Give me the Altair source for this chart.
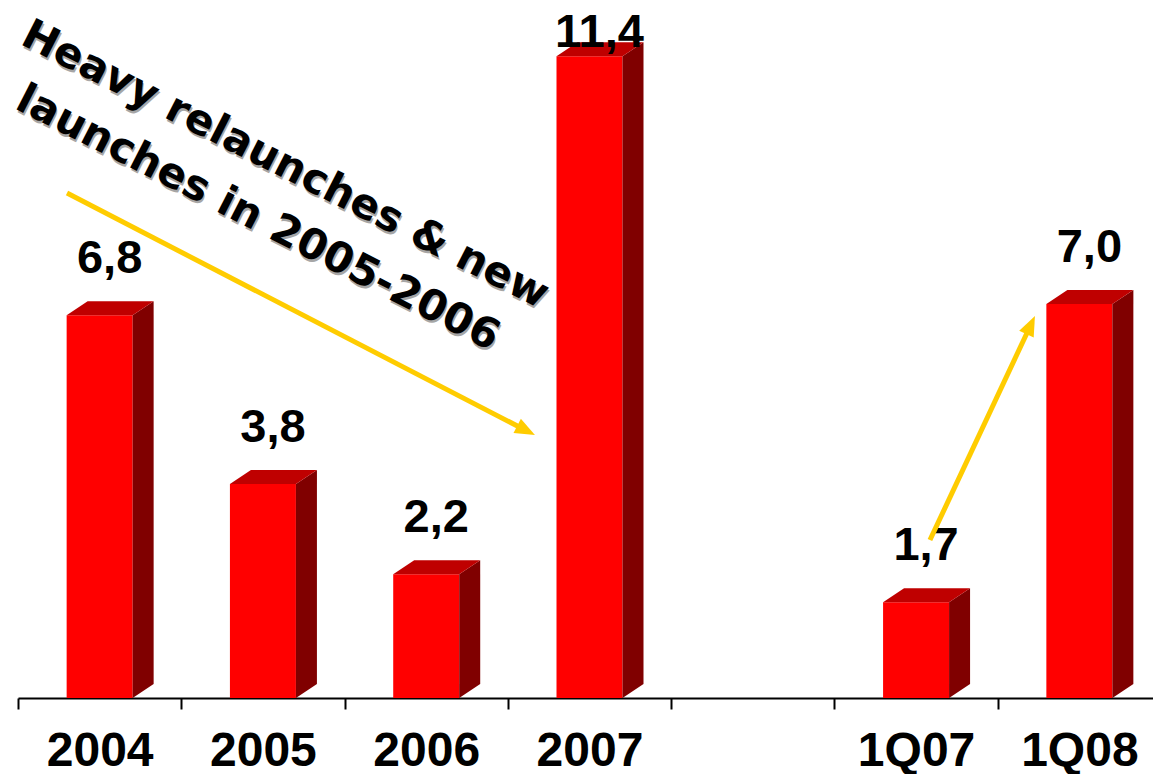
import math
import altair as alt
import pandas as pd

# ---- data -------------------------------------------------------------
axis_labels = ["2004", "2005", "2006", "2007", " ", "1Q07", "1Q08"]
bar_categories = ["2004", "2005", "2006", "2007", "1Q07", "1Q08"]
bar_values = [6.8, 3.8, 2.2, 11.4, 1.7, 7.0]
annotation_text = "Heavy relaunches & new\nlaunches in 2005-2006"
# arrows in data units (x = category slot index, y = value)
arrow_start_x = [-0.2, 5.085]
arrow_start_y = [8.97, 2.806]
arrow_tip_x = [2.666, 5.728]
arrow_tip_y = [4.67, 6.785]

# ---- layout constants -------------------------------------------------
W_RANGE = 1143          # full band range (last band runs past the canvas edge)
PLOT_W = 1135
PLOT_H = 698
Y_MAX = 12.4
PX_X = W_RANGE / len(axis_labels)
PX_Y = PLOT_H / Y_MAX
FRONT_PX = 66
DEPTH_X_PX = 21
DEPTH_Y_PX = 14
hw = FRONT_PX / 2 / PX_X
ddx = DEPTH_X_PX / PX_X
ddy = DEPTH_Y_PX / PX_Y

RED = "#FF0000"
TOP = "#BF0000"
SIDE = "#800000"
YELLOW = "#FFCC00"

# ---- derived tables ---------------------------------------------------
df_front = pd.DataFrame({"cat": bar_categories, "v": bar_values})

side_rows, top_rows, label_rows = [], [], []
for c, v in zip(bar_categories, bar_values):
    i = axis_labels.index(c)
    side_rows += [
        {"cat": c, "x": i + hw, "lo": 0.0, "hi": v},
        {"cat": c, "x": i + hw + ddx, "lo": ddy, "hi": v + ddy},
    ]
    top_rows += [
        {"cat": c, "x": i - hw, "lo": v, "hi": v},
        {"cat": c, "x": i - hw + ddx, "lo": v, "hi": v + ddy},
        {"cat": c, "x": i + hw, "lo": v, "hi": v + ddy},
        {"cat": c, "x": i + hw + ddx, "lo": v + ddy, "hi": v + ddy},
    ]
    label_rows.append({
        "x": i + 10 / PX_X,
        "y": min(v + 42 / PX_Y, Y_MAX - 47 / PX_Y),
        "t": f"{v:.1f}".replace(".", ","),
    })
df_side = pd.DataFrame(side_rows)
df_top = pd.DataFrame(top_rows)
df_lab = pd.DataFrame(label_rows)

rule_rows, head_rows = [], []
for sx, sy, tx, ty in zip(arrow_start_x, arrow_start_y, arrow_tip_x, arrow_tip_y):
    dxp = (tx - sx) * PX_X
    dyp = -(ty - sy) * PX_Y
    L = math.hypot(dxp, dyp)
    ux, uy = dxp / L, dyp / L
    ex = tx - 16 * ux / PX_X
    ey = ty + 16 * uy / PX_Y
    rule_rows.append({"x": sx, "y": sy, "x2": ex, "y2": ey})
    head_rows.append({"x": tx, "y": ty, "ang": math.degrees(math.atan2(ux, -uy)) % 360})
df_rule = pd.DataFrame(rule_rows)
df_head = pd.DataFrame(head_rows)
df_ann = pd.DataFrame({"x": [1.101], "y": [9.27], "t": [annotation_text]})

# ---- scales -------------------------------------------------------------
yscale = alt.Scale(domain=[0, Y_MAX], nice=False, zero=True)
xq_scale = alt.Scale(domain=[-0.5, len(axis_labels) - 0.5], range=[0, W_RANGE], nice=False, zero=False)


def xq(field="x"):
    return alt.X(f"{field}:Q", scale=xq_scale, axis=None)


def yq(field="y"):
    return alt.Y(f"{field}:Q", scale=yscale, axis=None)


front = alt.Chart(df_front).mark_bar(width=FRONT_PX, color=RED).encode(
    x=alt.X(
        "cat:N",
        sort=axis_labels,
        scale=alt.Scale(domain=axis_labels, range=[0, W_RANGE], paddingInner=0, paddingOuter=0),
        axis=alt.Axis(
            title=None, tickBand="extent", labelAngle=0,
            labelFont="Liberation Sans", labelFontSize=48, labelFontWeight="bold",
            labelColor="black", labelBaseline="alphabetic", labelPadding=56,
            tickSize=11, tickColor="black", tickWidth=2,
            domainColor="black", domainWidth=2, grid=False, labelOverlap=False,
        ),
    ),
    y=alt.Y("v:Q", scale=yscale, axis=None),
)

side = alt.Chart(df_side).mark_area(color=SIDE).encode(
    x=xq(), y=yq("hi"), y2="lo:Q", detail="cat:N"
)
top = alt.Chart(df_top).mark_area(color=TOP).encode(
    x=xq(), y=yq("hi"), y2="lo:Q", detail="cat:N"
)

labels = alt.Chart(df_lab).mark_text(
    font="Liberation Sans", fontSize=47, fontWeight="bold", color="black",
    align="center", baseline="alphabetic",
).encode(x=xq(), y=yq(), text="t:N")

rules = alt.Chart(df_rule).mark_rule(color=YELLOW, strokeWidth=5).encode(
    x=xq(), y=yq(), x2="x2:Q", y2="y2:Q"
)
heads = alt.Chart(df_head).mark_point(
    shape="M0,0L-0.8,2L0.8,2Z", filled=True, size=400, color=YELLOW, opacity=1
).encode(x=xq(), y=yq(), angle=alt.Angle("ang:Q", scale=None))

ann_kw = dict(
    font="DejaVu Sans", fontSize=42, fontWeight="bold", align="center",
    baseline="alphabetic", angle=27, lineBreak="\n", lineHeight=60,
)
ann_shadow = alt.Chart(df_ann).mark_text(color="#A6A6A6", dx=2, dy=2, **ann_kw).encode(
    x=xq(), y=yq(), text="t:N"
)
ann = alt.Chart(df_ann).mark_text(color="black", **ann_kw).encode(
    x=xq(), y=yq(), text="t:N"
)

chart = (
    alt.layer(front, side, top, labels, rules, heads, ann_shadow, ann)
    .resolve_scale(x="independent")
    .properties(
        width=PLOT_W, height=PLOT_H,
        padding={"left": 18, "top": 0, "right": 0, "bottom": 76},
        autosize=alt.AutoSizeParams(type="none"),
        background="white",
    )
    .configure_view(stroke=None)
)

chart.save("out.html", embed_options={"renderer": "svg", "actions": False})
